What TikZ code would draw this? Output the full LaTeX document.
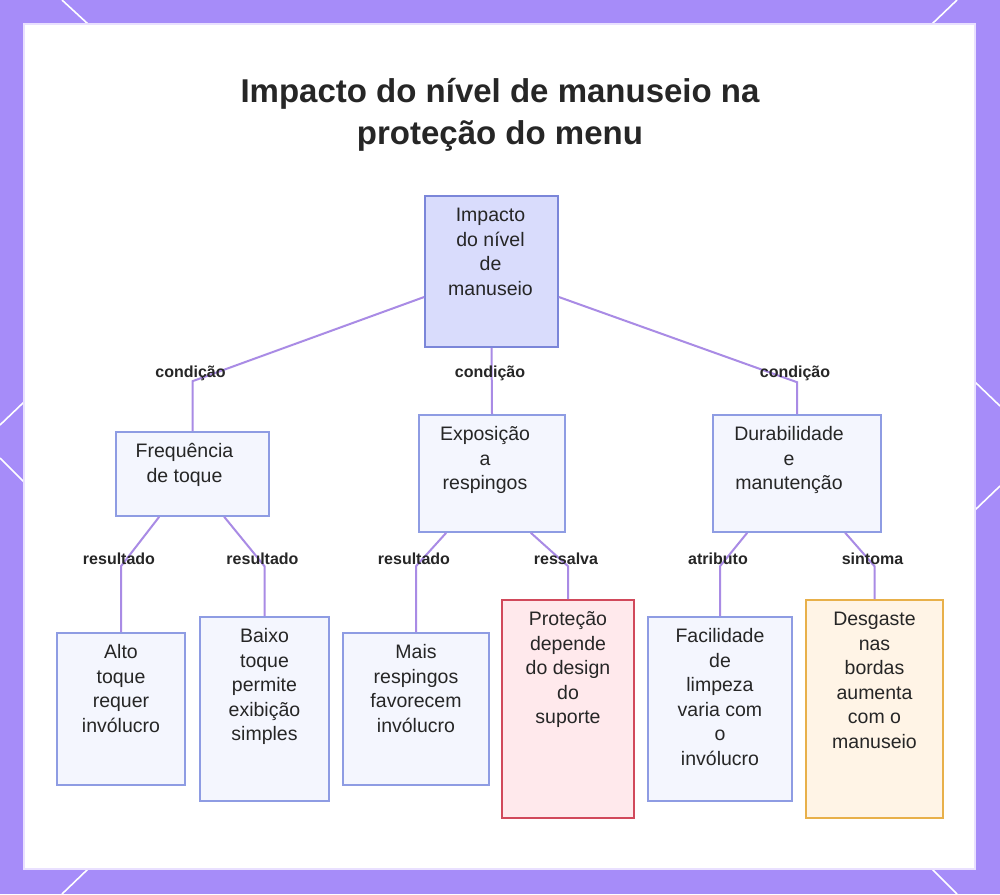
\documentclass[tikz,border=0pt]{standalone}
\usepackage{fontspec}
\setmainfont{Liberation Sans}
\usetikzlibrary{calc}
\definecolor{bgpurple}{HTML}{A68CF9}
\definecolor{panelline}{HTML}{E9E0FF}
\definecolor{rootfill}{HTML}{D9DCFC}
\definecolor{rootline}{HTML}{7B86D9}
\definecolor{subfill}{HTML}{F4F6FE}
\definecolor{subline}{HTML}{8E9CE3}
\definecolor{redfill}{HTML}{FFE9EC}
\definecolor{redline}{HTML}{D1495B}
\definecolor{orfill}{HTML}{FFF4E6}
\definecolor{orline}{HTML}{E8B04A}
\definecolor{edgecol}{HTML}{A98BE5}
\definecolor{txt}{HTML}{262626}
\newcommand{\bt}[4]{\begin{minipage}[c][#2pt][t]{#1pt}\centering\rightskip=#4pt plus 1fil\rule{0pt}{25.5pt}#3\end{minipage}}
\tikzset{
  boxbase/.style={inner sep=0pt, line width=1.6pt, text=txt, font=\fontsize{19.5}{24.5}\selectfont},
  rootbox/.style={boxbase, draw=rootline, fill=rootfill},
  subbox/.style={boxbase, draw=subline, fill=subfill},
  redbox/.style={boxbase, draw=redline, fill=redfill},
  orbox/.style={boxbase, draw=orline, fill=orfill},
  edge/.style={draw=edgecol, line width=2pt},
  lbl/.style={font=\fontsize{16}{18}\selectfont\bfseries, text=txt, inner sep=0pt},
  corner/.style={draw=white, line width=1.6pt}
}
\begin{document}
\begin{tikzpicture}[x=1pt,y=-1pt]
\useasboundingbox (0,0) rectangle (1000,894);
\fill[bgpurple] (0,0) rectangle (1000,894);
% corner diagonals
\draw[corner] (62,0) -- (88,24);
\draw[corner] (957,0) -- (932,24);
\draw[corner] (88,869) -- (62,894);
\draw[corner] (932,869) -- (957,894);
\draw[corner] (24,402) -- (0,425);
\draw[corner] (0,458) -- (24,482);
\draw[corner] (975,382) -- (1000,406);
\draw[corner] (1000,486) -- (975,510);
% panel
\fill[white, draw=panelline, line width=1.2pt] (24,24) rectangle (975,869);
% title
\node[font=\fontsize{33}{42}\selectfont\bfseries, text=txt, align=center, anchor=base] (title) at (500,144)
  {Impacto do nível de manuseio na\\proteção do menu};
% nodes
\node[rootbox] (root) at (491.5,271.5) {\bt{133}{151}{Impacto\\do nível\\de\\manuseio}{2}};
\node[subbox] (fre) at (192.5,474) {\bt{153}{84}{Frequência\\de toque}{16}};
\node[subbox] (exp) at (492,473.5) {\bt{146}{117}{Exposição\\a\\respingos}{14}};
\node[subbox] (dur) at (797,473.5) {\bt{168}{117}{Durabilidade\\e\\manutenção}{16}};
\node[subbox] (alto) at (121,709) {\bt{128}{152}{Alto\\toque\\requer\\invólucro}{0}};
\node[subbox] (baixo) at (264.5,709) {\bt{129}{184}{Baixo\\toque\\permite\\exibição\\simples}{0}};
\node[subbox] (mais) at (416,709) {\bt{146}{152}{Mais\\respingos\\favorecem\\invólucro}{0}};
\node[redbox] (prot) at (568,709) {\bt{132}{218}{Proteção\\depende\\do design\\do\\suporte}{0}};
\node[subbox] (fac) at (720,709) {\bt{144}{184}{Facilidade\\de\\limpeza\\varia com\\o\\invólucro}{0}};
\node[orbox] (des) at (874.5,709) {\bt{137}{218}{Desgaste\\nas\\bordas\\aumenta\\com o\\manuseio}{0}};
% connectors
\draw[edge] ([yshift=-25.5pt]root.west) -- ([yshift=50pt]fre.north) node[lbl, yshift=7.5pt, xshift=-2pt] {condição} -- (fre.north);
\draw[edge] (root.south) -- (exp.north);
\node[lbl] (l2) at ([yshift=40.5pt, xshift=-2pt]exp.north) {condição};
\draw[edge] ([yshift=-25.5pt]root.east) -- ([yshift=32pt]dur.north) node[lbl, yshift=8.5pt, xshift=-2pt] {condição} -- (dur.north);
\draw[edge] ([xshift=44pt]fre.south west) -- ([yshift=66pt]alto.north) node[lbl, yshift=7pt, xshift=-2pt] {resultado} -- (alto.north);
\draw[edge] ([xshift=109pt]fre.south west) -- ([yshift=50pt]baixo.north) node[lbl, yshift=7pt, xshift=-2pt] {resultado} -- (baixo.north);
\draw[edge] ([xshift=28pt]exp.south west) -- ([yshift=66pt]mais.north) node[lbl, yshift=7pt, xshift=-2pt] {resultado} -- (mais.north);
\draw[edge] ([xshift=-35pt]exp.south east) -- ([yshift=33pt]prot.north) node[lbl, yshift=7pt, xshift=-2pt] {ressalva} -- (prot.north);
\draw[edge] ([xshift=35pt]dur.south west) -- ([yshift=50pt]fac.north) node[lbl, yshift=7pt, xshift=-2pt] {atributo} -- (fac.north);
\draw[edge] ([xshift=133pt]dur.south west) -- ([yshift=33pt]des.north) node[lbl, yshift=7pt, xshift=-2pt] {sintoma} -- (des.north);
\end{tikzpicture}
\end{document}
